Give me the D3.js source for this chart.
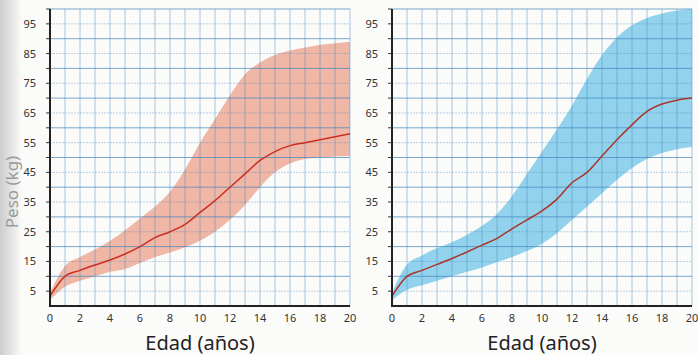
<!DOCTYPE html>
<html>
<head>
<meta charset="utf-8">
<script src="https://cdn.jsdelivr.net/npm/d3@7"></script>
<style>
  body { margin: 0; background: #fbfbfa; }
  svg { display: block; font-family: "Noto Sans", "Open Sans", sans-serif; }
</style>
</head>
<body>
<div id="chart"></div>
<script>
// ------------------- DATA ----------------------
// age in years, weight in kg
const ages = [0, 1, 2, 3, 4, 5, 6, 7, 8, 9, 10, 11, 12, 13, 14, 15, 16, 17, 18, 19, 20];

// left panel (pink)
const pinkLow = [2, 6.5, 8.5, 10, 11.5, 12.5, 14.5, 16.5, 18, 19.8, 22, 25, 29, 34, 40, 45, 48, 49.5, 50, 50.3, 50.5];
const pinkMid = [3.3, 10, 12, 13.8, 15.5, 17.5, 20, 23, 25, 27.5, 31.5, 35.5, 40, 44.5, 49, 52, 54, 55, 56, 57, 58];
const pinkHigh = [4.5, 13.5, 16.5, 19, 22, 25.5, 29.5, 33.5, 38.5, 46, 55, 63, 71, 78, 82, 84.5, 86, 87, 88, 88.5, 89];

// right panel (blue)
const blueLow = [2, 5.5, 7, 8.5, 10, 11.5, 13, 14.8, 16.5, 18.5, 21, 24.5, 29, 33.5, 38, 42.5, 46.5, 49.5, 51.5, 52.8, 53.5];
const blueMid = [3.3, 10, 12, 14, 16, 18.2, 20.5, 22.8, 26, 29, 32, 36, 41.5, 45, 50.5, 56, 61, 65.5, 68, 69.3, 70];
const blueHigh = [4.5, 14, 17, 19.5, 21.5, 24, 27, 31, 37, 44.5, 52, 59.5, 67.5, 76.5, 84.5, 90.5, 94.5, 97, 98.5, 99.5, 100];

const xTicks = [0, 2, 4, 6, 8, 10, 12, 14, 16, 18, 20];
const yTicks = [5, 15, 25, 35, 45, 55, 65, 75, 85, 95];
const xTitle = "Edad (años)";
const yTitle = "Peso (kg)";

// ------------------- SETUP ----------------------
const W = 698, H = 355;
const svg = d3.select("#chart").append("svg").attr("width", W).attr("height", H);

// page shadow on the left edge
const grad = svg.append("defs").append("linearGradient").attr("id", "shade");
grad.append("stop").attr("offset", "0%").attr("stop-color", "#cdcdcd");
grad.append("stop").attr("offset", "100%").attr("stop-color", "#fbfbfa");
svg.append("rect").attr("x", 0).attr("y", 0).attr("width", 22).attr("height", H).attr("fill", "url(#shade)");

const y = d3.scaleLinear().domain([0, 100]).range([306, 9]);

function panel(x0, low, mid, high, fill, lineColor) {
    const x = d3.scaleLinear().domain([0, 20]).range([x0, x0 + 300]);
    const g = svg.append("g");

    // band
    const area = d3.area()
        .x((d, i) => x(ages[i]))
        .y0((d, i) => y(low[i]))
        .y1((d, i) => y(high[i]))
        .curve(d3.curveMonotoneX);
    g.append("path").datum(ages).attr("d", area).attr("fill", fill);

    // grid
    g.selectAll(".vg").data(d3.range(1, 21)).enter().append("line")
        .attr("x1", d => x(d)).attr("x2", d => x(d))
        .attr("y1", y(0)).attr("y2", y(100))
        .attr("stroke", "#3f86bd").attr("stroke-width", 0.8).attr("opacity", 0.55);
    g.selectAll(".hg").data(d3.range(5, 101, 5)).enter().append("line")
        .attr("x1", x(0)).attr("x2", x(20))
        .attr("y1", d => y(d)).attr("y2", d => y(d))
        .attr("stroke", "#3f86bd").attr("stroke-width", d => d % 10 === 0 ? 1 : 0.8)
        .attr("stroke-dasharray", d => d % 10 === 0 ? null : "2,1")
        .attr("opacity", d => d % 10 === 0 ? 0.7 : 0.45);

    // median line
    const line = d3.line()
        .x((d, i) => x(ages[i]))
        .y((d, i) => y(mid[i]))
        .curve(d3.curveMonotoneX);
    g.append("path").datum(ages).attr("d", line)
        .attr("fill", "none").attr("stroke", lineColor).attr("stroke-width", 1.5);

    // axes
    g.append("line").attr("x1", x(0)).attr("x2", x(0)).attr("y1", y(0) + 1).attr("y2", y(100))
        .attr("stroke", "#222").attr("stroke-width", 2);
    g.append("line").attr("x1", x(0)).attr("x2", x(20)).attr("y1", y(0)).attr("y2", y(0))
        .attr("stroke", "#222").attr("stroke-width", 2);
    g.selectAll(".yt").data(d3.range(5, 101, 5)).enter().append("line")
        .attr("x1", x(0) - 4).attr("x2", x(0))
        .attr("y1", d => y(d)).attr("y2", d => y(d))
        .attr("stroke", "#333").attr("stroke-width", 1);

    g.selectAll(".yl").data(yTicks).enter().append("text")
        .attr("x", x(0) - 14).attr("y", d => y(d) + 4)
        .attr("text-anchor", "end").attr("font-size", 11).attr("fill", "#333")
        .text(d => d);
    g.selectAll(".xl").data(xTicks).enter().append("text")
        .attr("x", d => x(d)).attr("y", 322)
        .attr("text-anchor", "middle").attr("font-size", 11).attr("fill", "#333")
        .text(d => d);

    g.append("text").attr("x", x(10)).attr("y", 350)
        .attr("text-anchor", "middle").attr("font-size", 20).attr("fill", "#222")
        .text(xTitle);
}

panel(50, pinkLow, pinkMid, pinkHigh, "#f0b6a6", "#cc2e22");
panel(392, blueLow, blueMid, blueHigh, "#93d2ed", "#a8362a");

svg.append("text")
    .attr("transform", "translate(18,192) rotate(-90)")
    .attr("text-anchor", "middle").attr("font-size", 17).attr("fill", "#9a9a9a")
    .text(yTitle);
</script>
</body>
</html>
